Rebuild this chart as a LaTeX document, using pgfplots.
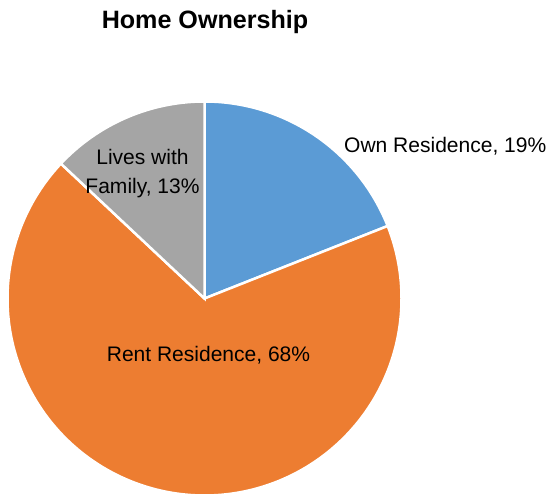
\documentclass[border=0pt]{standalone}
\usepackage{fontspec}
\setmainfont{Liberation Sans}
\usepackage{pgfplots}
\usepackage{pgfplotstable}
\pgfplotsset{compat=1.18}
\definecolor{cOwn}{HTML}{5B9BD5}
\definecolor{cRent}{HTML}{ED7D31}
\definecolor{cFam}{HTML}{A5A5A5}
\pgfplotstableread{
name value
Own 19
Rent 68
Family 13
}\piedata
\begin{document}
\begin{tikzpicture}
\pgfplotstablegetelem{0}{value}\of\piedata \let\vOwn\pgfplotsretval
\pgfplotstablegetelem{1}{value}\of\piedata \let\vRent\pgfplotsretval
\pgfplotstablegetelem{2}{value}\of\piedata \let\vFam\pgfplotsretval
\pgfmathsetmacro{\aA}{90}
\pgfmathsetmacro{\aB}{\aA-3.6*\vOwn}
\pgfmathsetmacro{\aC}{\aB-3.6*\vRent}
\pgfmathsetmacro{\aD}{\aC-3.6*\vFam}
\def\cx{204.5}\def\cy{198.5}\def\rr{197}
\begin{axis}[
  hide axis, scale only axis, x=1bp, y=1bp,
  xmin=0, xmax=551, ymin=0, ymax=497,
  clip=false, name=ax,
]
\addplot[fill=cOwn, draw=white, line width=2.5bp, line join=miter, domain=\aB:\aA, samples=120, variable=\t]
  ({\cx+\rr*cos(\t)},{\cy+\rr*sin(\t)}) -- (axis cs:\cx,\cy) -- cycle;
\addplot[fill=cRent, draw=white, line width=2.5bp, line join=miter, domain=\aC:\aB, samples=240, variable=\t]
  ({\cx+\rr*cos(\t)},{\cy+\rr*sin(\t)}) -- (axis cs:\cx,\cy) -- cycle;
\addplot[fill=cFam, draw=white, line width=2.5bp, line join=miter, domain=\aD:\aC, samples=80, variable=\t]
  ({\cx+\rr*cos(\t)},{\cy+\rr*sin(\t)}) -- (axis cs:\cx,\cy) -- cycle;
\node[anchor=base, font=\fontsize{25.2}{29}\selectfont\bfseries] at (axis cs:205,468) {Home Ownership};
\node[anchor=base west, font=\fontsize{21.1}{25}\selectfont, inner sep=0pt] at (axis cs:344,344) {Own Residence, 19\%};
\node[anchor=base, font=\fontsize{21.1}{25}\selectfont, inner sep=0pt] at (axis cs:208.5,135) {Rent Residence, 68\%};
\node[anchor=base, font=\fontsize{21.1}{25}\selectfont, inner sep=0pt] at (axis cs:142.5,332) {Lives with};
\node[anchor=base, font=\fontsize{21.1}{25}\selectfont, inner sep=0pt] at (axis cs:142.5,303) {Family, 13\%};
\end{axis}
\path[use as bounding box] (ax.south west) rectangle (ax.north east);
\end{tikzpicture}
\end{document}
